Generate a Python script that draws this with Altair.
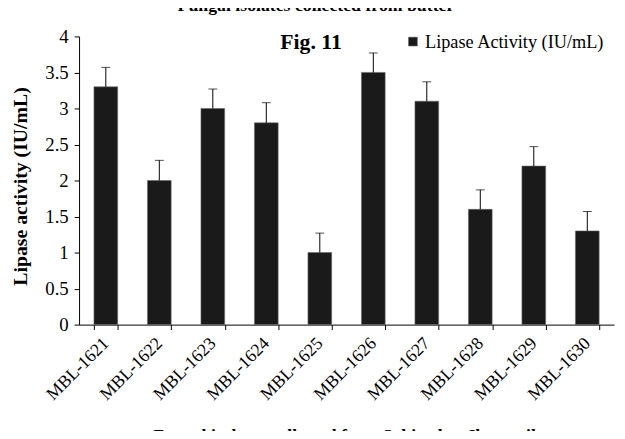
import altair as alt
import pandas as pd

isolates = ["MBL-1621", "MBL-1622", "MBL-1623", "MBL-1624", "MBL-1625",
            "MBL-1626", "MBL-1627", "MBL-1628", "MBL-1629", "MBL-1630"]
activity = [3.3, 2.0, 3.0, 2.8, 1.0, 3.5, 3.1, 1.6, 2.2, 1.3]
errors = [0.27, 0.28, 0.27, 0.28, 0.27, 0.27, 0.27, 0.27, 0.27, 0.27]
series_name = "Lipase Activity (IU/mL)"
y_ticks = [0, 0.5, 1, 1.5, 2, 2.5, 3, 3.5, 4]

df = pd.DataFrame({
    "isolate": isolates,
    "activity": activity,
    "upper": [a + e for a, e in zip(activity, errors)],
    "series": [series_name] * len(isolates),
})

FONT = "Liberation Serif"

x_axis = alt.Axis(labelAngle=-45, labelPadding=11, labelAlign="right",
                  labelBaseline="middle", tickBand="extent",
                  labelFont=FONT, labelFontSize=18, labelColor="black",
                  tickSize=5, tickColor="black", domainColor="black", grid=False)
y_axis = alt.Axis(values=y_ticks, format="~g", labelFont=FONT, labelFontSize=19,
                  labelPadding=6, labelColor="black", tickSize=5,
                  tickColor="black", domainColor="black", grid=False)
x_scale = alt.Scale(paddingInner=0.55, paddingOuter=0.275)
y_scale = alt.Scale(domain=[0, 4])

def xe():
    return alt.X("isolate:N", sort=isolates, title=None, scale=x_scale, axis=x_axis)

bars = alt.Chart(df).mark_bar(size=24, stroke="#666", strokeWidth=0.6).encode(
    x=xe(),
    y=alt.Y("activity:Q", title=None, scale=y_scale, axis=y_axis),
    color=alt.Color("series:N", scale=alt.Scale(range=["#1a1a1a"]),
                    legend=alt.Legend(title=None, orient="none", legendX=329, legendY=-4,
                                      symbolType="square", symbolSize=80,
                                      symbolStrokeColor="#666", symbolStrokeWidth=0.6,
                                      labelFont=FONT, labelFontSize=18.5, labelLimit=0,
                                      labelColor="black", labelOffset=3)),
)

rules = alt.Chart(df).mark_rule(color="black", strokeWidth=1).encode(
    x=xe(),
    y=alt.Y("activity:Q", title=None, scale=y_scale, axis=y_axis), y2="upper:Q")

caps = alt.Chart(df).mark_tick(color="black", size=9, thickness=1, orient="horizontal").encode(
    x=xe(), y=alt.Y("upper:Q", title=None, scale=y_scale, axis=y_axis))

def label(text, x, y, size, bold=True, angle=0):
    return alt.Chart(pd.DataFrame({"t": [text]})).mark_text(
        font=FONT, fontSize=size, fontWeight="bold" if bold else "normal",
        color="black", angle=angle, align="center", baseline="alphabetic"
    ).encode(text="t:N", x=alt.value(x), y=alt.value(y))

top_title = label("Fungal isolates collected from butter", 240, -26, 18)
fig_label = label("Fig. 11", 235, 13, 22)
x_title = label("Fungal isolates collected from Sahiwal to Jhang oil", 269, 410, 18)
y_title = label("Lipase activity (IU/mL)", -53, 152, 20, angle=270)

chart = alt.layer(bars, rules, caps, top_title, fig_label, x_title, y_title).properties(
    width=542, height=292,
    background="white",
    autosize=alt.AutoSizeParams(type="none"),
    padding={"left": 72, "top": 26, "right": 3, "bottom": 105},
).configure_view(stroke=None)

chart.save("out.html", embed_options={"renderer": "svg", "actions": False})
